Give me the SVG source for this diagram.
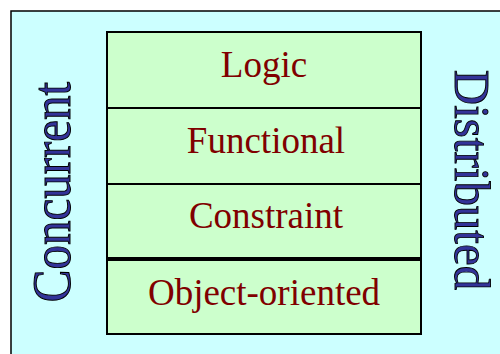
<svg xmlns="http://www.w3.org/2000/svg" width="500" height="354" viewBox="0 0 500 354">
<style>
.box{fill:#ccffcc;stroke:#000;stroke-width:2}
.lbl{font-family:"Liberation Serif","Times New Roman",serif;font-size:37px;fill:#800000;text-anchor:middle}
.side{font-family:"Liberation Serif","Times New Roman",serif;font-size:49px;fill:#333399;stroke:#000;stroke-width:0.9;text-anchor:middle}
</style>
<rect x="0" y="0" width="500" height="354" fill="#ffffff"/>
<rect x="11" y="11" width="500" height="360" fill="#ccffff" stroke="#000" stroke-width="1.5"/>
<g id="logic">
<rect class="box" x="107" y="32" width="314" height="76"/>
<text class="lbl" x="264" y="77">Logic</text>
</g>
<g id="functional">
<rect class="box" x="107" y="108" width="314" height="76"/>
<text class="lbl" x="266" y="153">Functional</text>
</g>
<g id="constraint">
<rect class="box" x="107" y="184" width="314" height="74"/>
<text class="lbl" x="266" y="228">Constraint</text>
</g>
<g id="object-oriented">
<rect class="box" x="107" y="260" width="314" height="74"/>
<text class="lbl" x="264" y="305">Object-oriented</text>
</g>
<g id="concurrent">
<text class="side" transform="translate(70,192) rotate(-90) scale(1,1.12)">Concurrent</text>
</g>
<g id="distributed">
<text class="side" transform="translate(455,180) rotate(90) scale(1,1.02)">Distributed</text>
</g>
</svg>
